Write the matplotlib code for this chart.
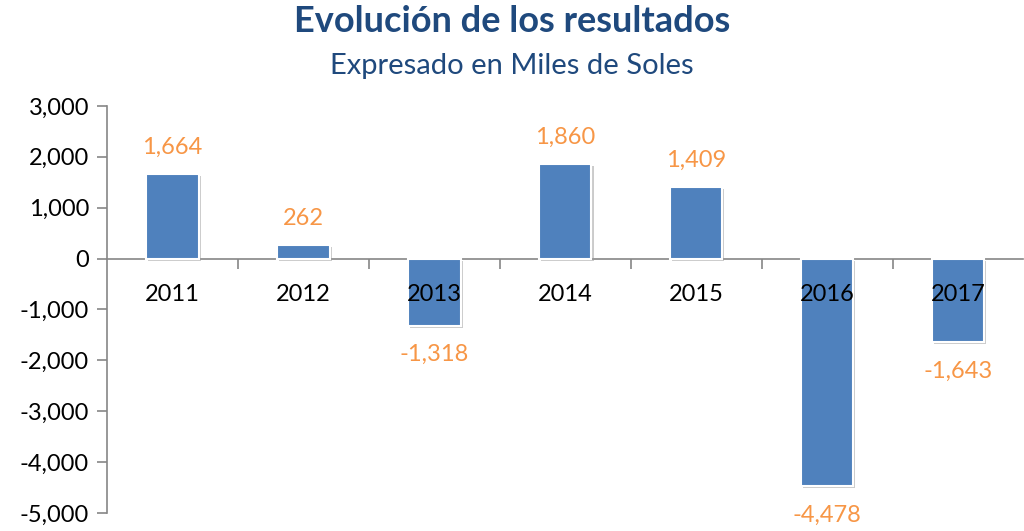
import matplotlib.pyplot as plt
import matplotlib.patheffects as pe
import numpy as np

years = ['2011', '2012', '2013', '2014', '2015', '2016', '2017']
values = [1664, 262, -1318, 1860, 1409, -4478, -1643]
yticks = np.arange(-5000, 3001, 1000)

plt.rcParams['font.family'] = ['Lato', 'DejaVu Sans']

fig = plt.figure(figsize=(10.24, 5.31), dpi=100)
ax = fig.add_axes([0.1045, 0.034, 0.895, 0.7665])

x = np.arange(len(years))
bars = ax.bar(x, values, width=0.4, color='#4F81BD', edgecolor='white', linewidth=1.5, zorder=3)
for b in bars:
    b.set_path_effects([pe.SimplePatchShadow(offset=(1.5, -1.5), shadow_rgbFace='#999999', alpha=0.5), pe.Normal()])

ax.set_xlim(-0.5, len(years) - 0.5)
ax.set_ylim(-5000, 3000)
ax.set_yticks(yticks)
ax.set_yticklabels([f'{v:,}' for v in yticks], fontsize=17)

# category labels sit just under the zero line
ax.set_xticks([])
ax.set_xticks(np.arange(0.5, len(years) - 1, 1), minor=True)
ax.tick_params(axis='x', which='minor', length=7, color='#868686', width=1.2)
ax.tick_params(axis='y', length=7, color='#868686', width=1.2, pad=6)
for xi, yr in zip(x, years):
    ax.annotate(yr, (xi, 0), xytext=(0, -26), textcoords='offset points',
                ha='center', va='center', fontsize=17, zorder=5)

for xi, v in zip(x, values):
    off = 19 if v > 0 else -21
    ax.annotate(f'{v:,}', (xi, v), xytext=(0, off), textcoords='offset points',
                ha='center', va='center', fontsize=17, color='#F79646')

for s in ['top', 'right']:
    ax.spines[s].set_visible(False)
ax.spines['left'].set_color('#868686')
ax.spines['left'].set_linewidth(1.2)
ax.spines['bottom'].set_position(('data', 0))
ax.spines['bottom'].set_color('#868686')
ax.spines['bottom'].set_linewidth(1.2)

fig.text(0.5, 1 - 22 / 531, 'Evolución de los resultados', ha='center', va='center',
         fontsize=26, fontweight='bold', color='#1F497D')
fig.text(0.5, 1 - 66 / 531, 'Expresado en Miles de Soles', ha='center', va='center',
         fontsize=21, color='#1F497D')

fig.savefig('out.png', dpi=100)
